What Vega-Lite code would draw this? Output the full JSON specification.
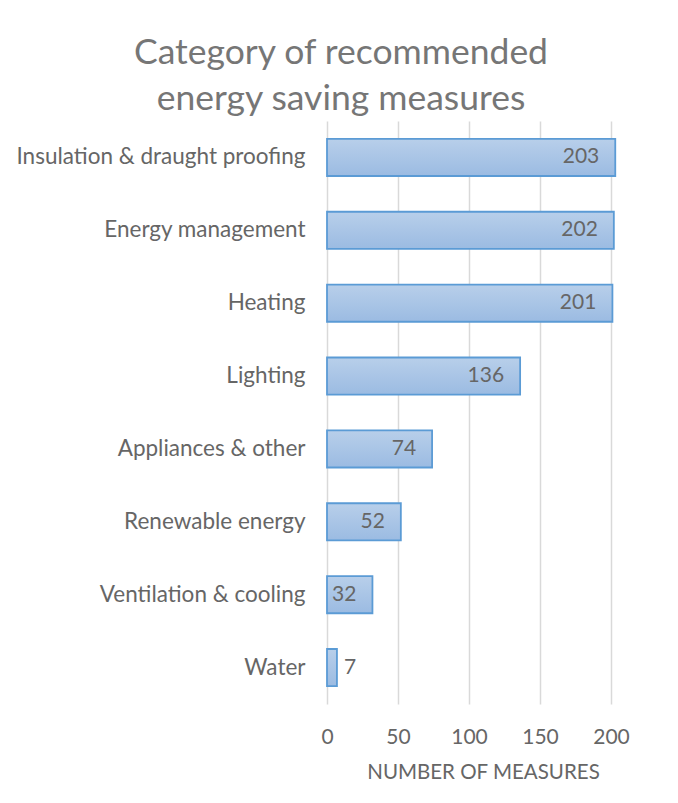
{
  "$schema": "https://vega.github.io/schema/vega-lite/v6.json",
  "autosize": {"type": "none"},
  "padding": {"left": 327, "top": 121, "right": 67, "bottom": 99},
  "width": 284,
  "height": 583,
  "background": "white",
  "title": {
    "text": ["Category of recommended", "energy saving measures"],
    "font": "Lato",
    "fontSize": 35.5,
    "fontWeight": "normal",
    "color": "#767676",
    "lineHeight": 46,
    "anchor": "middle",
    "dx": -128,
    "offset": 4
  },
  "data": {
    "values": [
      {"category": "Insulation & draught proofing", "measures": 203},
      {"category": "Energy management", "measures": 202},
      {"category": "Heating", "measures": 201},
      {"category": "Lighting", "measures": 136},
      {"category": "Appliances & other", "measures": 74},
      {"category": "Renewable energy", "measures": 52},
      {"category": "Ventilation & cooling", "measures": 32},
      {"category": "Water", "measures": 7}
    ]
  },
  "encoding": {
    "y": {
      "field": "category",
      "type": "nominal",
      "sort": null,
      "scale": {"paddingInner": 0.49, "paddingOuter": 0.245},
      "axis": {
        "title": null,
        "domain": false,
        "ticks": false,
        "labelFont": "Lato",
        "labelFontSize": 22.5,
        "labelColor": "#666666",
        "labelPadding": 22,
        "labelLimit": 400
      }
    },
    "x": {
      "field": "measures",
      "type": "quantitative",
      "scale": {"domain": [0, 200], "nice": false},
      "axis": {
        "values": [0, 50, 100, 150, 200],
        "title": "NUMBER OF MEASURES",
        "titleFont": "Lato",
        "titleFontSize": 20.5,
        "titleFontWeight": "normal",
        "titleColor": "#666666",
        "titlePadding": 15,
        "titleX": 156,
        "domain": false,
        "ticks": false,
        "labelFont": "Lato",
        "labelFontSize": 21,
        "labelColor": "#666666",
        "labelPadding": 22,
        "labelFlush": false,
        "labelBound": false,
        "grid": true,
        "gridColor": "#d9d9d9",
        "gridWidth": 1.5
      }
    }
  },
  "layer": [
    {
      "mark": {
        "type": "bar",
        "stroke": "#5b9bd5",
        "strokeWidth": 1.8,
        "color": {
          "gradient": "linear",
          "x1": 0, "y1": 0, "x2": 0, "y2": 1,
          "stops": [
            {"offset": 0, "color": "#b8cfea"},
            {"offset": 1, "color": "#9bbbe2"}
          ]
        }
      }
    },
    {
      "transform": [{"filter": "datum.measures >= 20"}],
      "mark": {
        "type": "text",
        "align": "right",
        "baseline": "middle",
        "dx": -16,
        "font": "Lato",
        "fontSize": 21,
        "color": "#666666"
      },
      "encoding": {"text": {"field": "measures", "type": "quantitative"}}
    },
    {
      "transform": [{"filter": "datum.measures < 20"}],
      "mark": {
        "type": "text",
        "align": "left",
        "baseline": "middle",
        "dx": 7,
        "font": "Lato",
        "fontSize": 21,
        "color": "#666666"
      },
      "encoding": {"text": {"field": "measures", "type": "quantitative"}}
    }
  ],
  "config": {"view": {"stroke": null}}
}
